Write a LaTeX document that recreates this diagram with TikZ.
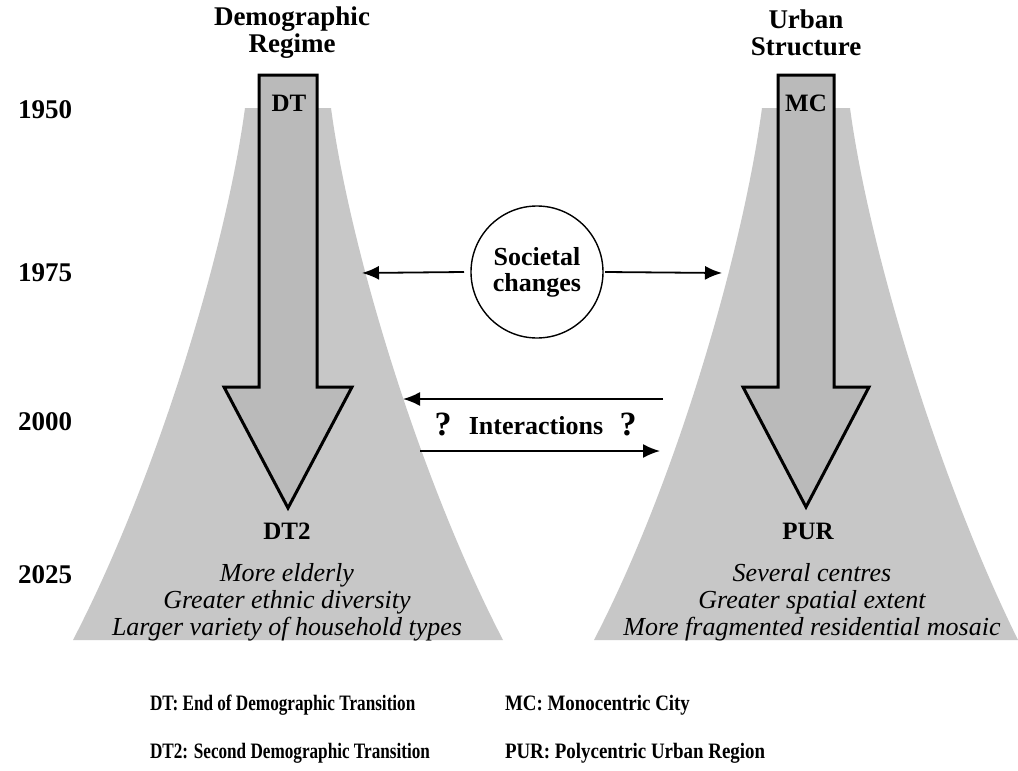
\documentclass[tikz,border=0pt]{standalone}
\usepackage{fontspec}
\setmainfont{Liberation Serif}
\usetikzlibrary{arrows.meta}
\begin{document}
\begin{tikzpicture}[x=1pt,y=-1pt,
  every node/.style={inner sep=0pt, outer sep=0pt},
  year/.style={font=\fontsize{27}{28}\selectfont\bfseries},
  title/.style={font=\fontsize{27}{27}\selectfont\bfseries, align=center},
  lbl/.style={font=\fontsize{25}{26}\selectfont\bfseries},
  feat/.style={font=\fontsize{26}{27}\selectfont\itshape, align=center},
  legendl/.style={font=\fontsize{22}{24}\selectfont\bfseries, anchor=west, xscale=0.78},
  legendr/.style={font=\fontsize{22}{24}\selectfont\bfseries, anchor=west, xscale=0.86},
  fan/.style={fill=black!22},
  bigarrow/.style={fill=black!27, draw=black, line width=3pt, line join=miter},
  conn/.style={line width=1.8pt, -{Latex[length=17pt,width=14pt]}},
  roundbox/.style={circle, draw=black, line width=1.4pt, minimum size=132pt, align=center,
    font=\fontsize{26}{26}\selectfont\bfseries},
]
\useasboundingbox (0,0) rectangle (1018,771);
\fill[white] (0,0) rectangle (1018,771);

% shaded fans
\fill[fan] (245,108) -- (331,108) .. controls (350,250) and (420,480) .. (503,640)
  -- (73,640) .. controls (156,480) and (226,250) .. (245,108) -- cycle;
\fill[fan] (762,108) -- (850,108) .. controls (869,250) and (939,480) .. (1018,640)
  -- (594,640) .. controls (677,480) and (743,250) .. (762,108) -- cycle;

% big arrows
\draw[bigarrow] (259,75) -- (317,75) -- (317,387) -- (352,387) -- (288,508)
  -- (224,387) -- (259,387) -- cycle;
\draw[bigarrow] (778,75) -- (834,75) -- (834,387) -- (869,387) -- (806,507)
  -- (743,387) -- (778,387) -- cycle;

% titles
\node[title] (t1) at (292,33) {Demographic\\Regime};
\node[title] (t2) at (806,33) {Urban\\Structure};

% years
\node[year] (y1) at (45,110) {1950};
\node[year] (y2) at (45,273) {1975};
\node[year] (y3) at (45,422) {2000};
\node[year] (y4) at (45,575) {2025};

% labels
\node[lbl] (dt) at (289,103) {DT};
\node[lbl] (mc) at (806,103) {MC};
\node[lbl] (dt2) at (287,531) {DT2};
\node[lbl] (pur) at (808,531) {PUR};

\node[feat] (f1) at (287,602) {More elderly\\Greater ethnic diversity\\Larger variety of household types};
\node[feat] (f2) at (812,602) {Several centres\\Greater spatial extent\\More fragmented residential mosaic};

% societal changes
\node[roundbox] (soc) at (537,272) {Societal\\changes};
\coordinate (sl) at (362,273);
\coordinate (sr) at (722,273);
\draw[conn] ([xshift=-7pt]soc.west) -- (sl);
\draw[conn] ([xshift=2pt]soc.east) -- (sr);

% interactions
\coordinate (ia1) at (663,399);
\coordinate (ia2) at (403,399);
\coordinate (ib1) at (420,451);
\coordinate (ib2) at (660,451);
\draw[conn] (ia1) -- (ia2);
\draw[conn] (ib1) -- (ib2);
\node[font=\fontsize{34}{34}\selectfont\bfseries] (q1) at (443,424) {?};
\node[font=\fontsize{26}{26}\selectfont\bfseries] (inter) at (536,426) {Interactions};
\node[font=\fontsize{34}{34}\selectfont\bfseries] (q2) at (628,424) {?};

% legend
\node[legendl] (l1) at (150,705) {DT: End of Demographic Transition};
\node[legendl] (l2) at (150,753) {DT2: Second Demographic Transition};
\node[legendr] (l3) at (505,705) {MC: Monocentric City};
\node[legendr] (l4) at (505,753) {PUR: Polycentric Urban Region};
\end{tikzpicture}
\end{document}
